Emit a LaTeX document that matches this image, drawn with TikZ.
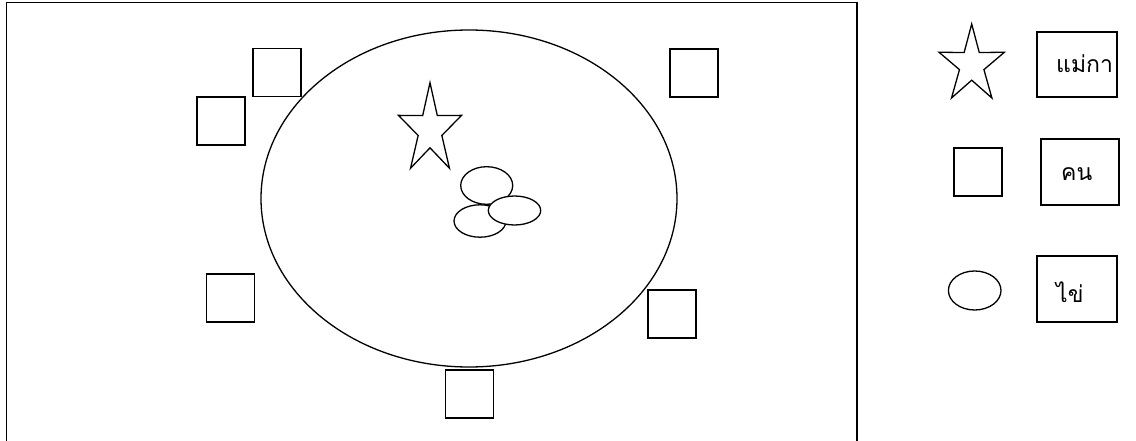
\documentclass[tikz,border=0pt]{standalone}
\usepackage{fontspec}
\newfontfamily\thaifont[Script=Thai]{Loma}
\begin{document}
\begin{tikzpicture}[x=1pt,y=-1pt,
  line/.style={line width=1.3pt, black},
  sq/.style={line, draw, fill=white, rectangle, inner sep=0pt, minimum width=48pt, minimum height=48pt},
  egg/.style={line, draw, fill=white},
  lbox/.style={line, draw, rectangle, inner sep=0pt},
  ltext/.style={font=\thaifont\fontsize{23}{26}\selectfont, inner sep=0pt, anchor=west}
]
\useasboundingbox (0,0) rectangle (1136,441);
% outer frame (bottom edge is outside the picture)
\draw[line width=1.8pt] (6.5,445) -- (6.5,2.5) -- (857,2.5) -- (857,445);
% big ellipse
\draw[line] (469,198.5) ellipse [x radius=208, y radius=168.5];
% people around the ellipse
\node[sq] (p1) at (277,72.5) {};
\node[sq] (p2) at (221,121) {};
\node[sq] (p3) at (694,73) {};
\node[sq] (p4) at (230.5,298) {};
\node[sq] (p5) at (672,314) {};
\node[sq] (p6) at (469.5,394) {};
% hen (star)
\begin{scope}[shift={(430,130)}, xscale=0.70, yscale=-1]
  \draw[line, line join=miter] (90:47.3) -- (126:17.8) -- (162:47.3) -- (198:17.8) -- (234:47.3)
    -- (270:17.8) -- (306:47.3) -- (342:17.8) -- (18:47.3) -- (54:17.8) -- cycle;
\end{scope}
% eggs
\draw[egg] (486.7,185.5) ellipse [x radius=26, y radius=18.8];
\draw[egg] (480,221) ellipse [x radius=26, y radius=16.2];
\draw[egg] (514.5,210.5) ellipse [x radius=26.2, y radius=14.5];
% legend
\begin{scope}[shift={(971.7,64.9)}, xscale=0.84, yscale=-1]
  \draw[line, line join=miter] (90:40.9) -- (126:15.3) -- (162:40.9) -- (198:15.3) -- (234:40.9)
    -- (270:15.3) -- (306:40.9) -- (342:15.3) -- (18:40.9) -- (54:15.3) -- cycle;
\end{scope}
\node[sq] (lp) at (978,172) {};
\draw[line] (974.7,290.5) ellipse [x radius=26.3, y radius=19.5];
\draw[lbox] (1037,32) rectangle (1117,97);
\draw[lbox] (1041,139) rectangle (1119,205);
\draw[lbox] (1037,256) rectangle (1117,322);
\node[ltext] (t1) at (1056,64) {แม่กา};
\node[ltext] (t2) at (1061,174) {คน};
\node[ltext] (t3) at (1056,292) {ไข่};
\end{tikzpicture}
\end{document}
